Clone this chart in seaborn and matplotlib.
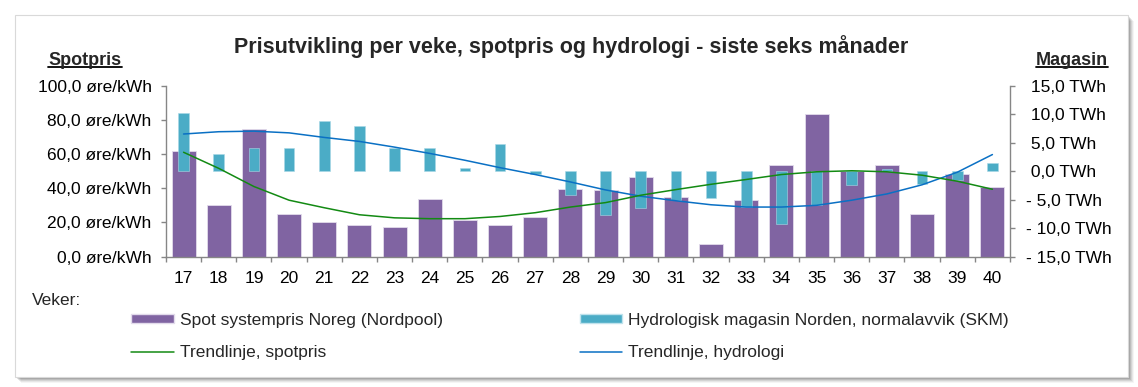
import numpy as np
import pandas as pd
import matplotlib
matplotlib.use("Agg")
import matplotlib.pyplot as plt
import seaborn as sns
from matplotlib.patches import Patch, Rectangle
from matplotlib.lines import Line2D

# ---------------- data ----------------
weeks = ["17", "18", "19", "20", "21", "22", "23", "24", "25", "26", "27", "28",
         "29", "30", "31", "32", "33", "34", "35", "36", "37", "38", "39", "40"]
spot_price = [62.0, 30.0, 74.7, 25.1, 20.2, 18.4, 17.5, 33.9, 21.4, 18.4, 23.3, 39.8,
              38.8, 46.7, 34.9, 7.6, 32.9, 53.3, 83.5, 50.2, 53.3, 25.1, 48.4, 40.8]
hydro_dev = [10.2, 3.0, 4.1, 4.1, 8.7, 7.9, 4.0, 4.1, 0.6, 4.8, -0.5, -4.2,
             -7.7, -6.5, -5.1, -4.8, -6.3, -9.2, -6.0, -2.5, 0.4, -2.3, -1.5, 1.5]
spot_trend = [61.0, 51.6, 41.0, 33.0, 28.6, 24.5, 22.7, 22.2, 22.2, 23.5, 25.7, 29.0,
              31.6, 35.9, 39.2, 42.3, 45.1, 48.0, 49.6, 50.2, 49.6, 47.6, 44.1, 39.4]
hydro_trend = [6.5, 6.9, 7.0, 6.7, 5.9, 5.2, 4.2, 3.1, 1.9, 0.6, -0.6, -1.9,
               -3.3, -4.4, -5.2, -5.9, -6.3, -6.3, -6.0, -5.1, -4.0, -2.4, -0.2, 2.9]

left_ticks = [0, 20, 40, 60, 80, 100]
left_tick_labels = ["0,0 øre/kWh", "20,0 øre/kWh", "40,0 øre/kWh", "60,0 øre/kWh",
                    "80,0 øre/kWh", "100,0 øre/kWh"]
right_ticks = [-15, -10, -5, 0, 5, 10, 15]
right_tick_labels = ["- 15,0 TWh", "- 10,0 TWh", "- 5,0 TWh", " 0,0 TWh",
                     " 5,0 TWh", " 10,0 TWh", " 15,0 TWh"]

title = "Prisutvikling per veke, spotpris og hydrologi - siste seks månader"
left_axis_title = "Spotpris"
right_axis_title = "Magasin"
x_axis_title = "Veker:"
series_names = ["Spot systempris Noreg (Nordpool)", "Trendlinje, spotpris",
                "Hydrologisk magasin Norden, normalavvik (SKM)", "Trendlinje, hydrologi"]

PURPLE = "#8064A2"
CYAN = "#4BACC6"
GREEN = "#138a13"
BLUE = "#0A70C4"
GREY = "#868686"

df = pd.DataFrame({"week": weeks, "spot": spot_price, "hydro": hydro_dev,
                   "spot_trend": spot_trend, "hydro_trend": hydro_trend})
df["pos"] = np.arange(len(df))

# ---------------- figure ----------------
sns.set_theme(style="white")
plt.rcParams["font.family"] = ["Liberation Sans", "DejaVu Sans"]

W, H = 1138, 387
fig = plt.figure(figsize=(W / 100, H / 100), dpi=100)


def fx(px):
    return px / W


def fy(py):
    return 1 - py / H


# outer frame with soft shadow
bx0, by0, bx1, by1 = 15, 15, 1128, 377
for k, a in zip(range(6, 0, -1), [0.04, 0.06, 0.08, 0.10, 0.12, 0.14]):
    fig.add_artist(Rectangle((fx(bx0 + k), fy(by1 + k)), (bx1 - bx0) / W, (by1 - by0) / H,
                             transform=fig.transFigure, facecolor="black", alpha=a,
                             edgecolor="none", zorder=-20))
fig.add_artist(Rectangle((fx(bx0), fy(by1)), (bx1 - bx0) / W, (by1 - by0) / H,
                         transform=fig.transFigure, facecolor="white",
                         edgecolor="#d9d9d9", linewidth=0.8, zorder=-10))

ax_l, ax_r, ax_t, ax_b = 166, 1010, 85.5, 256.7
rect = [fx(ax_l), fy(ax_b), (ax_r - ax_l) / W, (ax_b - ax_t) / H]
ax = fig.add_axes(rect)
ax.patch.set_visible(False)

sns.barplot(data=df, x="week", y="spot", color=PURPLE, saturation=1, width=0.68,
            edgecolor="#e2dbeb", linewidth=0.6, ax=ax)
ax.set_ylim(0, 100)
ax.set_yticks(left_ticks)
ax.set_yticklabels(left_tick_labels)
ax.set_xticks(df["pos"])
ax.set_xticklabels(weeks)
ax.set_xticks(np.arange(-0.5, len(weeks), 1.0), minor=True)
ax.set_xlim(-0.5, len(weeks) - 0.5)
ax.set_xlabel("")
ax.set_ylabel("")

ax2 = ax.twinx()
sns.barplot(data=df, x="week", y="hydro", color=CYAN, saturation=1, width=0.30,
            edgecolor="#a9d8e6", linewidth=0.4, ax=ax2)
sns.lineplot(data=df, x="pos", y="hydro_trend", color=BLUE, linewidth=1.1, ax=ax2)
ax2.set_ylim(-15, 15)
ax2.set_yticks(right_ticks)
ax2.set_yticklabels(right_tick_labels)
ax2.set_ylabel("")
ax2.set_xlabel("")

ax3 = ax.twinx()
sns.lineplot(data=df, x="pos", y="spot_trend", color=GREEN, linewidth=1.1, ax=ax3)
ax3.set_ylim(0, 100)
ax3.axis("off")

ax.set_xlim(-0.5, len(weeks) - 0.5)

for s in ["top", "right"]:
    ax.spines[s].set_visible(False)
for s in ["top", "left", "bottom"]:
    ax2.spines[s].set_visible(False)
for s in ["left", "bottom"]:
    ax.spines[s].set_color(GREY)
    ax.spines[s].set_linewidth(1.0)
ax2.spines["right"].set_color(GREY)
ax2.spines["right"].set_linewidth(1.0)

ax.tick_params(axis="y", which="major", left=True, direction="out", length=3.4,
               width=1.0, color=GREY, pad=7, labelsize=12.5, labelcolor="black")
ax.tick_params(axis="x", which="major", bottom=True, length=0, pad=10,
               labelsize=12.5, labelcolor="black")
ax.tick_params(axis="x", which="minor", bottom=True, direction="out", length=3.6,
               width=1.0, color=GREY)
ax2.tick_params(axis="y", which="major", right=True, direction="out", length=3.4,
                width=1.0, color=GREY, pad=8, labelsize=12.5, labelcolor="black")
ax2.tick_params(axis="x", which="both", bottom=False, labelbottom=False)

# titles
fig.text(fx(571), fy(53.3), title, ha="center", va="baseline", fontsize=15.5,
         fontweight="bold")
t_left = fig.text(fx(85), fy(65), left_axis_title, ha="center", va="baseline",
                  fontsize=13, fontweight="bold")
t_right = fig.text(fx(1072), fy(65), right_axis_title, ha="center", va="baseline",
                   fontsize=13, fontweight="bold")
fig.text(fx(31.7), fy(305), x_axis_title, ha="left", va="baseline", fontsize=12.5)

fig.canvas.draw()
renderer = fig.canvas.get_renderer()
for t in (t_left, t_right):
    bb = t.get_window_extent(renderer)
    fig.add_artist(Line2D([bb.x0 / W, bb.x1 / W], [fy(67.2), fy(67.2)],
                          transform=fig.transFigure, color="black", linewidth=1.3))

# legend
handles = [Patch(facecolor=PURPLE, edgecolor="#e2dbeb"),
           Line2D([0], [0], color=GREEN, linewidth=1.1),
           Patch(facecolor=CYAN, edgecolor="#bfe2ec"),
           Line2D([0], [0], color=BLUE, linewidth=1.1)]
fig.legend(handles, series_names, ncols=2, loc="upper left",
           bbox_to_anchor=(fx(131), fy(313)), frameon=False, fontsize=12.5,
           handlelength=2.45, handleheight=0.45, handletextpad=0.35,
           columnspacing=7.9, labelspacing=1.0, borderpad=0, borderaxespad=0)

fig.savefig("out.png", dpi=100)
